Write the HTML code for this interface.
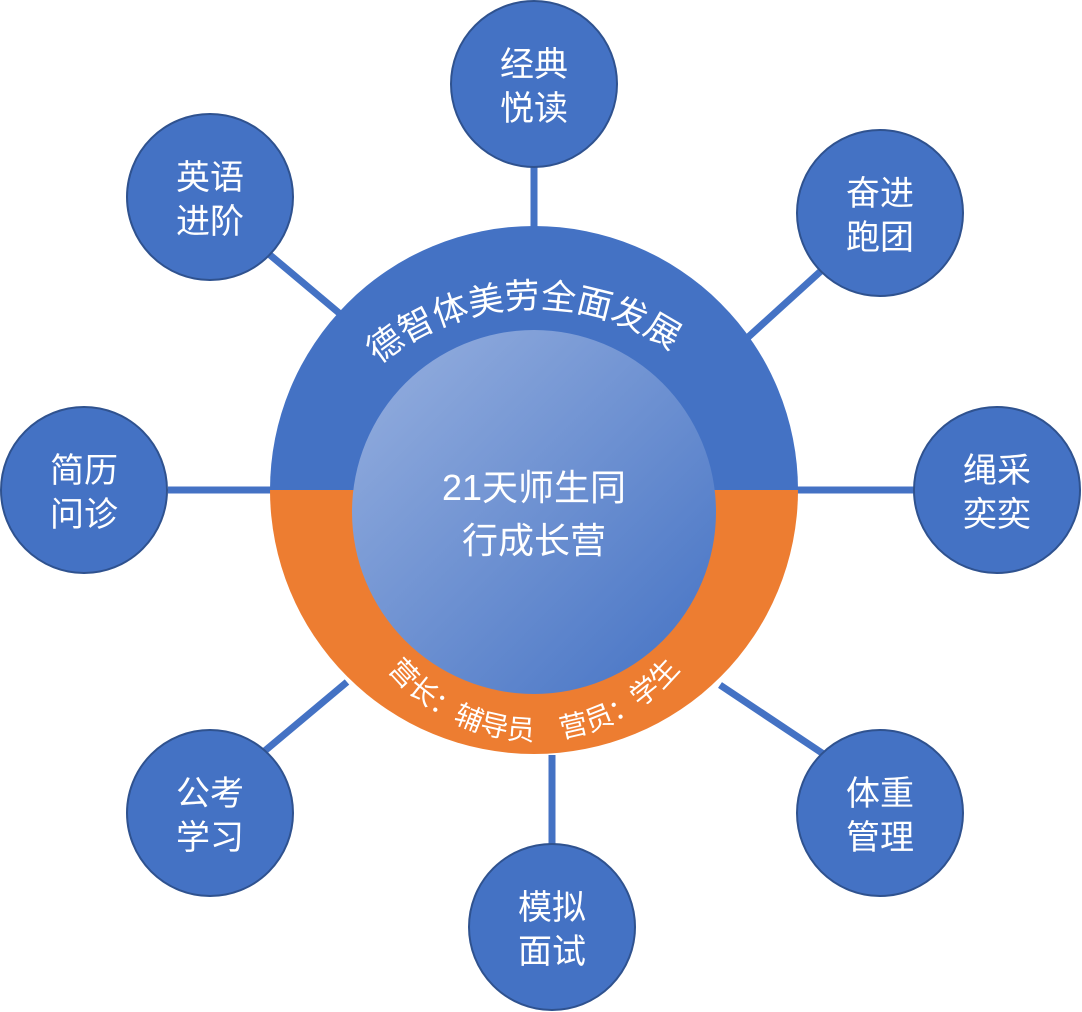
<!DOCTYPE html>
<html><head><meta charset="utf-8"><style>
html,body{margin:0;padding:0;background:#fff}
svg{display:block}
text{font-family:"Liberation Sans","Noto Sans CJK SC",sans-serif;fill:#fff}
</style></head><body>
<svg width="1082" height="1012" viewBox="0 0 1082 1012" xmlns="http://www.w3.org/2000/svg">
<defs>
<linearGradient id="g" x1="0" y1="0" x2="1" y2="1">
<stop offset="0" stop-color="#97B0DF"/><stop offset="1" stop-color="#4472C4"/>
</linearGradient>
<path id="top" d="M 292 550 A 242 242 0 0 1 776 550"/>
<path id="bot" d="M 347 553 A 187 187 0 0 0 721 553"/>
</defs>
<g stroke="#4472C4" stroke-width="7">
<line x1="534" y1="160" x2="534" y2="240"/>
<line x1="822" y1="270" x2="745" y2="340"/>
<line x1="915" y1="490" x2="795" y2="490"/>
<line x1="825" y1="755" x2="720" y2="685"/>
<line x1="552" y1="845" x2="552" y2="755"/>
<line x1="230" y1="780" x2="347" y2="682"/>
<line x1="168" y1="490" x2="275" y2="490"/>
<line x1="270" y1="255" x2="345" y2="318"/>
</g>
<path d="M 270 490 A 264 264 0 0 1 798 490 Z" fill="#4472C4"/>
<path d="M 270 490 A 264 264 0 0 0 798 490 Z" fill="#ED7D31"/>
<circle cx="534" cy="512" r="182" fill="url(#g)"/>
<text font-size="35"><textPath href="#top" startOffset="48.5%" text-anchor="middle">德智体美劳全面发展</textPath></text>
<text font-size="28"><textPath href="#bot" startOffset="50%" text-anchor="middle">营长：辅导员　营员：学生</textPath></text>
<text x="534" y="500" font-size="36" text-anchor="middle">21天师生同</text>
<text x="534" y="553" font-size="36" text-anchor="middle">行成长营</text>
<g fill="#4472C4" stroke="#2F528F" stroke-width="2">
<circle cx="534" cy="84" r="83"/>
<circle cx="880" cy="213" r="83"/>
<circle cx="997" cy="490" r="83"/>
<circle cx="880" cy="813" r="83"/>
<circle cx="552" cy="927" r="83"/>
<circle cx="210" cy="813" r="83"/>
<circle cx="84" cy="490" r="83"/>
<circle cx="210" cy="197" r="83"/>
</g>
<g font-size="34" text-anchor="middle">
<text x="534" y="76">经典</text><text x="534" y="120">悦读</text>
<text x="880" y="205">奋进</text><text x="880" y="249">跑团</text>
<text x="997" y="482">绳采</text><text x="997" y="526">奕奕</text>
<text x="880" y="805">体重</text><text x="880" y="849">管理</text>
<text x="552" y="919">模拟</text><text x="552" y="963">面试</text>
<text x="210" y="805">公考</text><text x="210" y="849">学习</text>
<text x="84" y="482">简历</text><text x="84" y="526">问诊</text>
<text x="210" y="189">英语</text><text x="210" y="233">进阶</text>
</g>
</svg>
</body></html>
